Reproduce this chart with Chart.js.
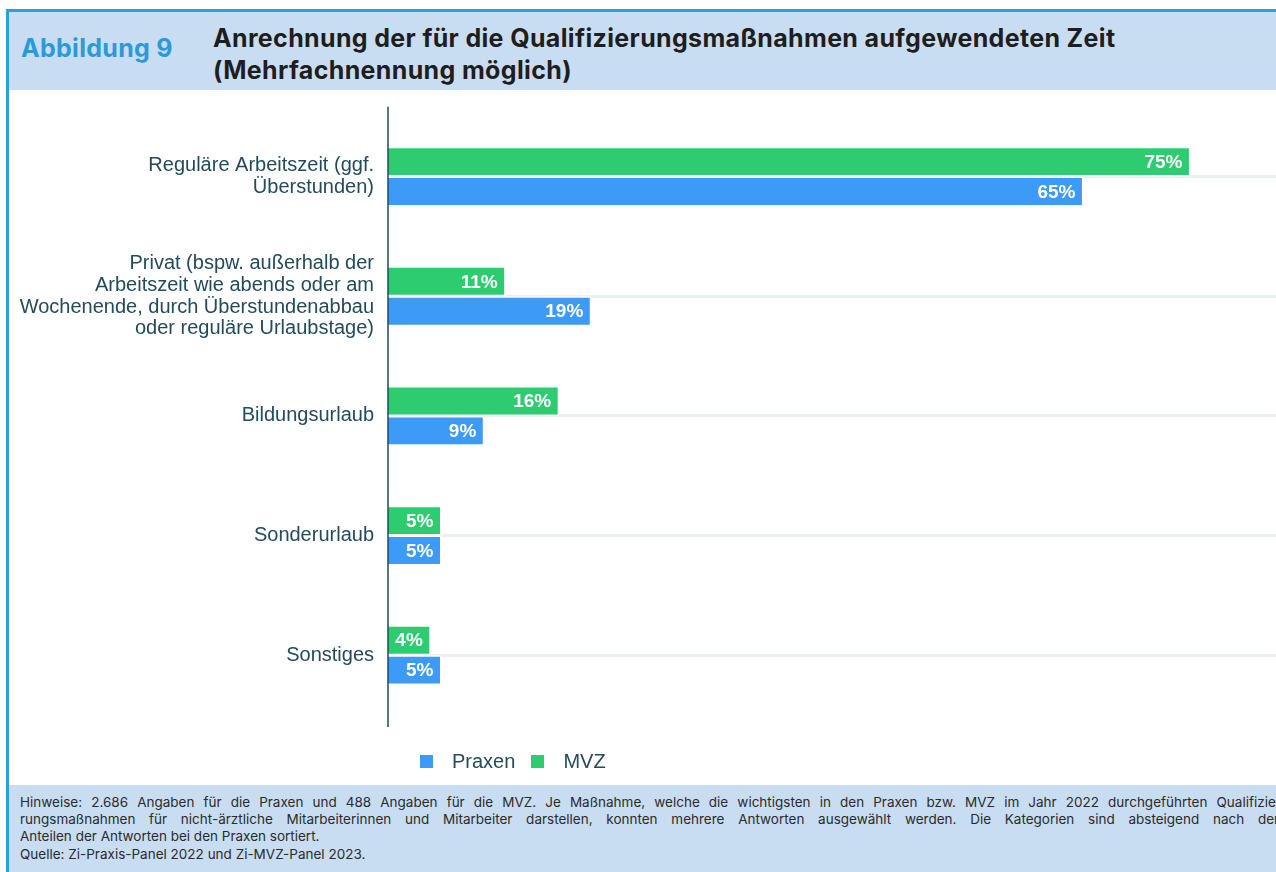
<!DOCTYPE html>
<html lang="de">
<head>
<meta charset="utf-8">
<script src="https://cdn.jsdelivr.net/npm/chart.js@4"></script>
<style>
  html, body { margin: 0; padding: 0; background: #fff; overflow: hidden; }
  body { width: 1276px; height: 872px; position: relative; }
  .line-top { position: absolute; left: 6px; right: 0; top: 9px; height: 3px; background: #2aa0dc; }
  .line-left { position: absolute; left: 6px; width: 3px; top: 9px; bottom: 0; background: #2aa0dc; }
  .head { position: absolute; left: 9px; right: 0; top: 12px; height: 78px; background: #c9ddf2; }
  .fig { position: absolute; left: 12px; top: 21px; font: 700 25px Inter, sans-serif; letter-spacing: 0.3px; color: #2a9ad8; }
  .title { position: absolute; left: 204px; top: 10px; font: 700 25px Inter, sans-serif; letter-spacing: 0.35px; color: #1e1e1e; line-height: 32px; }
  .foot { position: absolute; left: 9px; right: 0; top: 785px; bottom: 0; background: #c9ddf2; overflow: hidden; }
  .foot div { position: absolute; left: 11px; width: 1262px; font: 400 13.5px Inter, sans-serif; color: #2b2b2b; white-space: nowrap; }
  .just { text-align: justify; text-align-last: justify; white-space: normal !important; }
  #wrap { position: absolute; left: 10px; top: 92px; width: 1266px; height: 690px; }
  #legend { position: absolute; left: 420px; top: 750px; display: flex; align-items: center; font: 20px "Liberation Sans", Arial, sans-serif; color: #234b5b; }
  #legend span.box { display: inline-block; width: 13px; height: 13px; margin-right: 19px; }
  #legend span.txt { margin-right: 16px; }
</style>
</head>
<body>
<div class="line-top"></div>
<div class="line-left"></div>
<div class="head">
  <div class="fig">Abbildung 9</div>
  <div class="title">Anrechnung der für die Qualifizierungsmaßnahmen aufgewendeten Zeit<br>(Mehrfachnennung möglich)</div>
</div>
<div id="wrap"><canvas id="chart"></canvas></div>
<div id="legend"></div>
<div class="foot">
  <div class="just" style="top:9px">Hinweise: 2.686 Angaben für die Praxen und 488 Angaben für die MVZ. Je Maßnahme, welche die wichtigsten in den Praxen bzw. MVZ im Jahr 2022 durchgeführten Qualifizie-</div>
  <div class="just" style="top:26px">rungsmaßnahmen für nicht-ärztliche Mitarbeiterinnen und Mitarbeiter darstellen, konnten mehrere Antworten ausgewählt werden. Die Kategorien sind absteigend nach den</div>
  <div style="top:43px">Anteilen der Antworten bei den Praxen sortiert.</div>
  <div style="top:61px">Quelle: Zi-Praxis-Panel 2022 und Zi-MVZ-Panel 2023.</div>
</div>
<script>
const categories = [
  ["Reguläre Arbeitszeit (ggf.", "Überstunden)"],
  ["Privat (bspw. außerhalb der", "Arbeitszeit wie abends oder am", "Wochenende, durch Überstundenabbau", "oder reguläre Urlaubstage)"],
  "Bildungsurlaub",
  "Sonderurlaub",
  "Sonstiges"
];
const praxenValues = [65, 19, 9, 5, 5];
const mvzValues = [75, 11, 16, 5, 4];
const seriesNames = ["Praxen", "MVZ"];
const seriesColors = ["#3d9af6", "#2ecc71"];

const textColor = "#234b5b";

// white percent labels at the end of each bar
const barLabels = {
  id: "barLabels",
  afterDatasetsDraw(chart) {
    const ctx = chart.ctx;
    ctx.save();
    ctx.font = "bold 19px 'Liberation Sans', Arial, sans-serif";
    ctx.fillStyle = "#fff";
    ctx.textAlign = "right";
    ctx.textBaseline = "middle";
    chart.data.datasets.forEach((ds, i) => {
      chart.getDatasetMeta(i).data.forEach((bar, j) => {
        ctx.fillText(ds.data[j] + "%", bar.x - 8, bar.y + 1);
      });
    });
    ctx.restore();
  }
};

// vertical axis line, a bit longer than the plot area
const axisLine = {
  id: "axisLine",
  afterDatasetsDraw(chart) {
    const a = chart.chartArea;
    const ctx = chart.ctx;
    ctx.save();
    ctx.strokeStyle = "#1f4858";
    ctx.lineWidth = 1.5;
    ctx.beginPath();
    ctx.moveTo(a.left, a.top - 10);
    ctx.lineTo(a.left, a.bottom + 12);
    ctx.stroke();
    ctx.restore();
  }
};

const chart = new Chart(document.getElementById("chart").getContext("2d"), {
  type: "bar",
  data: {
    labels: categories,
    datasets: [
      { label: seriesNames[1], data: mvzValues, backgroundColor: seriesColors[1], borderColor: "#fff", borderWidth: 1.5 },
      { label: seriesNames[0], data: praxenValues, backgroundColor: seriesColors[0], borderColor: "#fff", borderWidth: 1.5 }
    ]
  },
  options: {
    indexAxis: "y",
    responsive: true,
    maintainAspectRatio: false,
    animation: false,
    layout: { padding: { top: 23, bottom: 67, left: 0, right: 0 } },
    datasets: { bar: { categoryPercentage: 0.5, barPercentage: 1 } },
    plugins: { legend: { display: false }, tooltip: { enabled: false } },
    scales: {
      x: { display: false, min: 0, max: 83 },
      y: {
        afterFit: (scale) => { scale.width = 378; },
        border: { display: false },
        grid: { offset: false, drawTicks: false, color: "#eceff0", lineWidth: 3 },
        ticks: {
          padding: 14,
          color: textColor,
          font: { family: "'Liberation Sans', Arial, sans-serif", size: 20, lineHeight: 1.08 }
        }
      }
    }
  },
  plugins: [barLabels, axisLine]
});

// legend: Praxen first, then MVZ
const legend = document.getElementById("legend");
seriesNames.forEach((name, i) => {
  const box = document.createElement("span");
  box.className = "box";
  box.style.background = seriesColors[i];
  const txt = document.createElement("span");
  txt.className = "txt";
  txt.textContent = name;
  legend.appendChild(box);
  legend.appendChild(txt);
});
</script>
</body>
</html>
